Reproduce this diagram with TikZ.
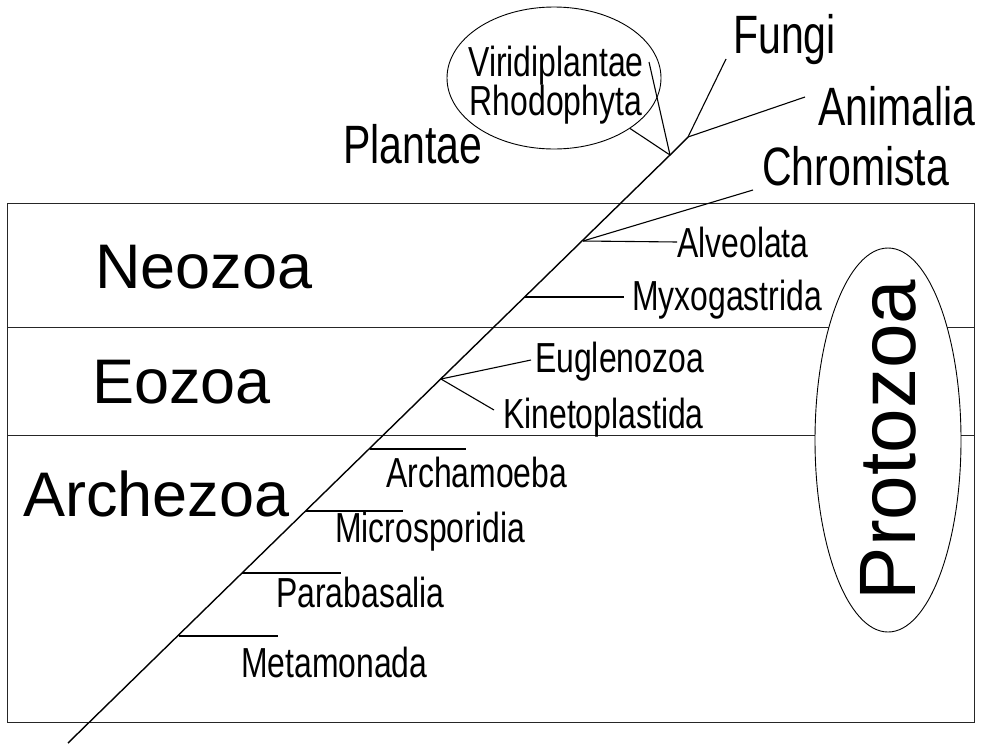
\documentclass[tikz,border=0pt]{standalone}
\usepackage{fontspec}
\setmainfont{Liberation Sans}
\newfontfamily\narrowfont[FakeStretch=0.76]{Liberation Sans}
\usetikzlibrary{shapes.geometric}

\tikzset{
  taxon/.style={inner sep=0pt,anchor=base west,font=\narrowfont\fontsize{42}{42}\selectfont},
  kingdom/.style={inner sep=0pt,anchor=base west,font=\narrowfont\fontsize{54}{54}\selectfont},
  realm/.style={inner sep=0pt,anchor=base west,font=\fontsize{63}{63}\selectfont},
  branch/.style={line width=1.1pt},
  trunk/.style={line width=1.4pt},
  frame/.style={line width=1pt,black!85},
}

\begin{document}
\begin{tikzpicture}[x=1pt,y=-1pt]
  \useasboundingbox (0,0) rectangle (981,745);
  % bands
  \draw[frame] (7,203) rectangle (974,722);
  \draw[frame] (7,327) -- (974,327);
  \draw[frame] (7,435) -- (974,435);
  \node[realm] (neozoa) at (95,288) {Neozoa};
  \node[realm] (eozoa) at (92,403) {Eozoa};
  \node[realm] (archezoa) at (23,516) {Archezoa};
  \node[ellipse,draw,fill=white,line width=.9pt,inner sep=0pt,minimum width=146pt,minimum height=384pt] (protozoa) at (888,440) {};
  \node[rotate=90,inner sep=0pt,font=\fontsize{80}{80}\selectfont] (protozoalabel) at (protozoa.center) {Protozoa};

  % points on the main line
  \coordinate (root) at (68,743);
  \coordinate (jmeta) at (179,636);
  \coordinate (jpara) at (242,573);
  \coordinate (jmicro) at (306,511);
  \coordinate (jarch) at (370,449);
  \coordinate (jeug) at (441,379);
  \coordinate (jmyxo) at (525,297);
  \coordinate (jalv) at (583,241);
  \coordinate (jplant) at (670,155);
  \coordinate (janim) at (688,137);
  \draw[trunk] (root) -- (jplant) -- (janim);

  % free ends of the side lines
  \coordinate (emeta) at (278,636);
  \coordinate (epara) at (341,573);
  \coordinate (emicro) at (403,511);
  \coordinate (earch) at (466,449);
  \coordinate (ekin) at (494,410);
  \coordinate (eeug) at (531,360);
  \coordinate (emyxo) at (624,297);
  \coordinate (echrom) at (753,190);
  \coordinate (eanim) at (805,97);
  \coordinate (efungi) at (726,59);
  \coordinate (eviri) at (649,62);

  \node[taxon] (metamonada) at (241,677) {Metamonada};
  \node[taxon] (parabasalia) at (276,607) {Parabasalia};
  \node[taxon] (microsporidia) at (335,542) {Microsporidia};
  \node[taxon] (archamoeba) at (386,487) {Archamoeba};
  \node[taxon] (kinetoplastida) at (503,428) {Kinetoplastida};
  \node[taxon] (euglenozoa) at (535,372) {Euglenozoa};
  \node[taxon] (myxogastrida) at (632,310) {Myxogastrida};
  \node[taxon] (alveolata) at (677,257) {Alveolata};

  \node[kingdom] (plantae) at (343,163) {Plantae};
  \node[kingdom] (chromista) at (762,185) {Chromista};
  \node[kingdom] (animalia) at (818,125) {Animalia};
  \node[kingdom] (fungi) at (733,53) {Fungi};

  \node[ellipse,draw,line width=.9pt,inner sep=0pt,minimum width=214pt,minimum height=142pt] (plantset) at (554,78) {};
  \node[taxon,anchor=base] (viridiplantae) at (556,76) {Viridiplantae};
  \node[taxon,anchor=base] (rhodophyta) at (556,115) {Rhodophyta};

  \draw[branch] (jmeta) -- (emeta);
  \draw[branch] (jpara) -- (epara);
  \draw[branch] (jmicro) -- (emicro);
  \draw[branch] (jarch) -- (earch);
  \draw[branch] (jeug) -- (eeug);
  \draw[branch] (jeug) -- (ekin);
  \draw[branch] (jmyxo) -- (emyxo);
  \draw[branch] (jalv) -- (alveolata.west);
  \draw[branch] (jalv) -- (echrom);
  \draw[branch] (jplant) -- (plantset);
  \draw[branch] (jplant) -- (eviri);
  \draw[branch] (janim) -- (efungi);
  \draw[branch] (janim) -- (eanim);
\end{tikzpicture}
\end{document}
